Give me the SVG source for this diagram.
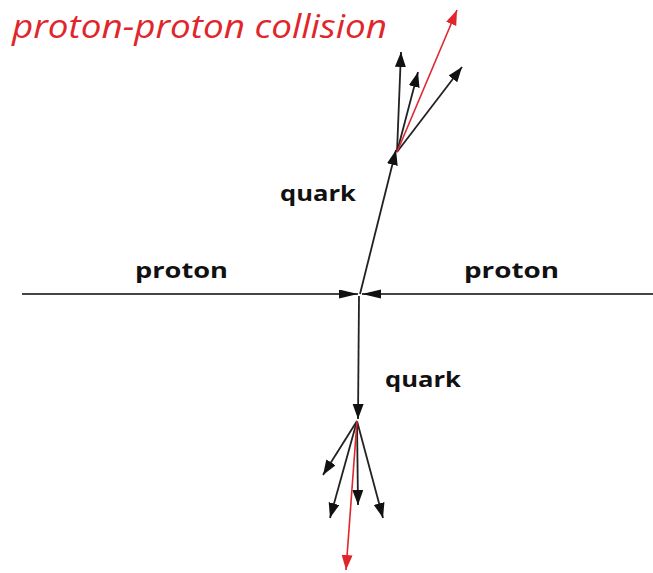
<svg xmlns="http://www.w3.org/2000/svg" width="653" height="573" viewBox="0 0 653 573">
<style>
.ln{stroke:#222;stroke-width:1.8;fill:none;marker-end:url(#ab)}
.hl{stroke:#444;stroke-width:2;fill:none;marker-end:url(#ah)}
.rd{stroke:#e0262c;stroke-width:1.6;fill:none;marker-end:url(#ar)}
.lbl{font-family:"Open Sans","Liberation Sans",sans-serif;font-weight:bold;font-size:21px;fill:#111}
.ttl{font-family:"Open Sans","Liberation Sans",sans-serif;font-style:italic;font-size:32px;fill:#e0262c}
</style>
<defs>
<marker id="ab" markerUnits="userSpaceOnUse" markerWidth="17" markerHeight="12" refX="15" refY="5.5" orient="auto"><path d="M0,0 L15,5.5 L0,11 z" fill="#111"/></marker>
<marker id="ah" markerUnits="userSpaceOnUse" markerWidth="20" markerHeight="10" refX="19" refY="4.5" orient="auto"><path d="M0,0 L19,4.5 L0,9 z" fill="#111"/></marker>
<marker id="ar" markerUnits="userSpaceOnUse" markerWidth="17" markerHeight="12" refX="15" refY="5.5" orient="auto"><path d="M0,0 L15,5.5 L0,11 z" fill="#e0262c"/></marker>
</defs>
<rect width="653" height="573" fill="#fff"/>
<text class="ttl" x="12" y="38" textLength="375" lengthAdjust="spacingAndGlyphs">proton-proton collision</text>
<g id="connectors">
<line class="hl" x1="22" y1="294" x2="358" y2="294"/>
<line class="hl" x1="653" y1="294" x2="362" y2="294"/>
<line class="ln" x1="360" y1="294" x2="396" y2="150"/>
<line class="ln" x1="359" y1="296" x2="358" y2="419"/>
<line class="ln" x1="397" y1="152" x2="401" y2="52"/>
<line class="ln" x1="397" y1="152" x2="418" y2="72"/>
<line class="ln" x1="397" y1="152" x2="462" y2="67"/>
<line class="rd" x1="397" y1="152" x2="457" y2="10"/>
<line class="ln" x1="357" y1="421" x2="323" y2="475"/>
<line class="ln" x1="357" y1="421" x2="330" y2="518"/>
<line class="ln" x1="357" y1="421" x2="358" y2="505"/>
<line class="ln" x1="357" y1="421" x2="383" y2="518"/>
<line class="rd" x1="357" y1="421" x2="346" y2="570"/>
</g>
<g id="proton-left"><text class="lbl" x="135" y="278" textLength="93" lengthAdjust="spacingAndGlyphs">proton</text></g>
<g id="proton-right"><text class="lbl" x="464" y="278" textLength="95" lengthAdjust="spacingAndGlyphs">proton</text></g>
<g id="quark-up"><text class="lbl" x="280" y="201" textLength="76" lengthAdjust="spacingAndGlyphs">quark</text></g>
<g id="quark-down"><text class="lbl" x="385" y="387" textLength="76" lengthAdjust="spacingAndGlyphs">quark</text></g>
</svg>
